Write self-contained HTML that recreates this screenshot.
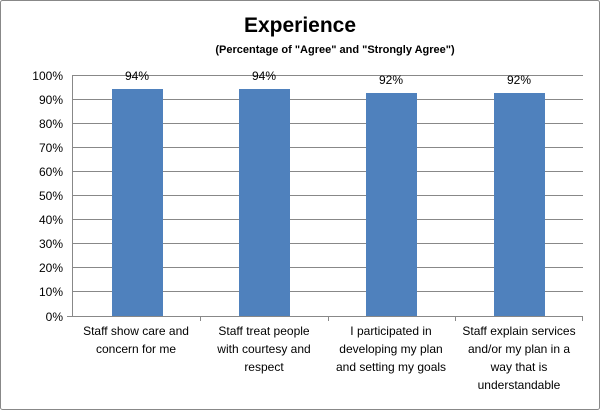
<!DOCTYPE html>
<html><head><style>
body{margin:0;background:#fff}
</style></head><body>
<svg width="600" height="410" xmlns="http://www.w3.org/2000/svg" font-family="Liberation Sans, Arial, sans-serif">
<rect x="0.5" y="0.5" width="599" height="409" fill="#fff" stroke="#888" rx="2"/>
<text x="300" y="32" text-anchor="middle" font-size="21" font-weight="bold">Experience</text>
<text x="335" y="53" text-anchor="middle" font-size="11" font-weight="bold">(Percentage of "Agree" and "Strongly Agree")</text>
<g stroke="#888" stroke-width="1">
<line x1="72" y1="75.5" x2="583" y2="75.5"/>
<line x1="72" y1="99.5" x2="583" y2="99.5"/>
<line x1="72" y1="123.5" x2="583" y2="123.5"/>
<line x1="72" y1="147.5" x2="583" y2="147.5"/>
<line x1="72" y1="171.5" x2="583" y2="171.5"/>
<line x1="72" y1="195.5" x2="583" y2="195.5"/>
<line x1="72" y1="219.5" x2="583" y2="219.5"/>
<line x1="72" y1="243.5" x2="583" y2="243.5"/>
<line x1="72" y1="267.5" x2="583" y2="267.5"/>
<line x1="72" y1="291.5" x2="583" y2="291.5"/>
<line x1="67" y1="316.5" x2="583" y2="316.5"/>
<line x1="72.5" y1="75" x2="72.5" y2="316"/>
<line x1="200.5" y1="316" x2="200.5" y2="321"/>
<line x1="328.5" y1="316" x2="328.5" y2="321"/>
<line x1="455.5" y1="316" x2="455.5" y2="321"/>
<line x1="582.5" y1="316" x2="582.5" y2="321"/>
</g>
<g font-size="12" text-anchor="end" fill="#000">
<text x="63" y="80">100%</text><text x="63" y="104">90%</text><text x="63" y="128">80%</text>
<text x="63" y="152">70%</text><text x="63" y="176">60%</text><text x="63" y="200">50%</text>
<text x="63" y="224">40%</text><text x="63" y="248">30%</text><text x="63" y="272">20%</text>
<text x="63" y="296">10%</text><text x="63" y="321">0%</text>
</g>
<g fill="#4f81bd">
<rect x="112" y="89" width="51" height="227"/>
<rect x="239" y="89" width="51" height="227"/>
<rect x="366" y="93" width="51" height="223"/>
<rect x="494" y="93" width="51" height="223"/>
</g>
<g font-size="12" text-anchor="middle">
<text x="137" y="80">94%</text><text x="264" y="80">94%</text>
<text x="391" y="84">92%</text><text x="519" y="84">92%</text>
</g>
<g font-size="12" text-anchor="middle">
<text x="136" y="335">Staff show care and</text><text x="136" y="353">concern for me</text>
<text x="264" y="335">Staff treat people</text><text x="264" y="353">with courtesy and</text><text x="264" y="371">respect</text>
<text x="391" y="335">I participated in</text><text x="391" y="353">developing my plan</text><text x="391" y="371">and setting my goals</text>
<text x="519" y="335">Staff explain services</text><text x="519" y="353">and/or my plan in a</text><text x="519" y="371">way that is</text><text x="519" y="389">understandable</text>
</g>
</svg>
</body></html>
